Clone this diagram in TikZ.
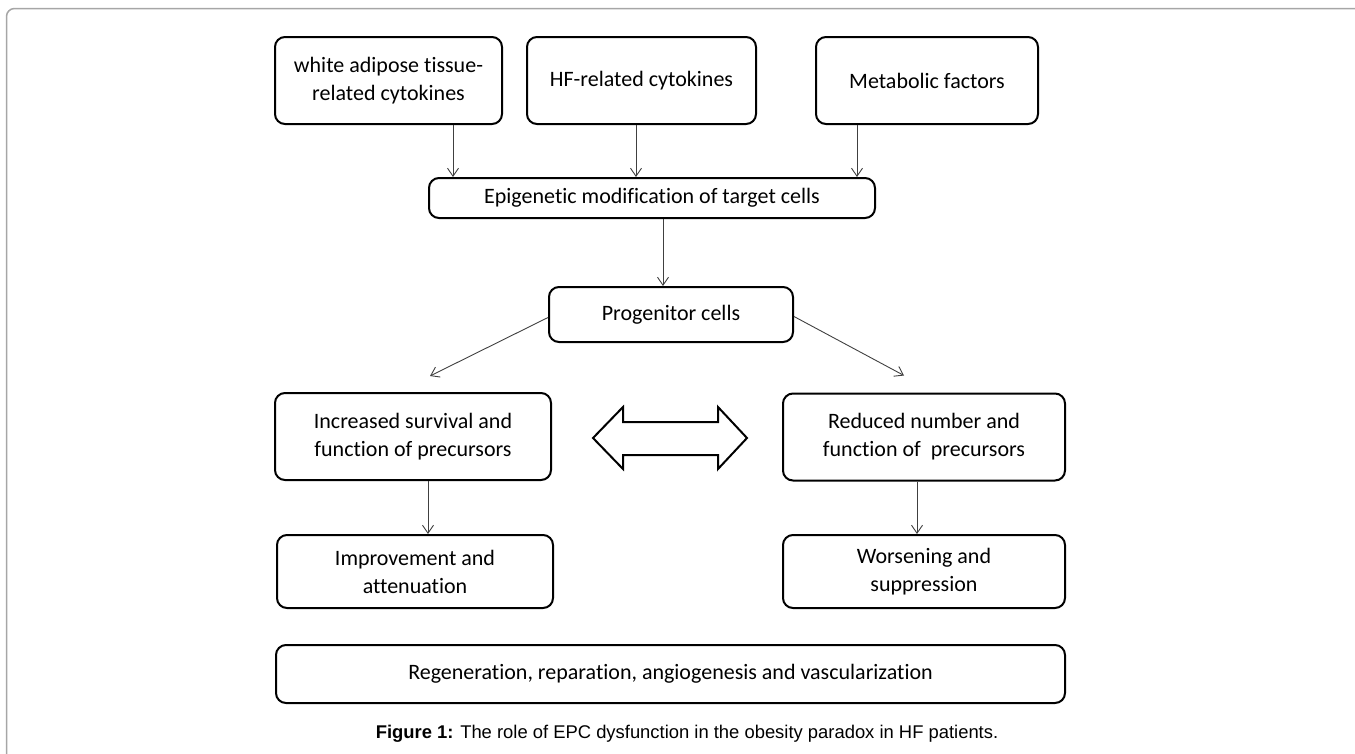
\documentclass[tikz,border=0pt]{standalone}
\usepackage{fontspec}
\setmainfont{Carlito}[Ligatures=NoCommon]
\newfontfamily\capfont{Liberation Sans}
\usetikzlibrary{arrows.meta}

\tikzset{
  box/.style={draw,rectangle,line width=2pt,rounded corners=10pt,align=center,
    font=\fontsize{22}{28}\selectfont,inner sep=0pt},
  link/.style={-{Straight Barb[length=8pt,width=11pt]},line width=0.9pt,color=black!75}
}

\begin{document}
\begin{tikzpicture}[x=1pt,y=-1pt]
  \useasboundingbox (0,0) rectangle (1355,753);
  \draw[line width=1.5pt,color=black!35,rounded corners=8pt] (6.5,8.5) rectangle (1420,820);

    \node[box,minimum width=227pt,minimum height=87pt] (wat) at (388.5,80.5) {white adipose tissue-\\related cytokines};
    \node[box,minimum width=229pt,minimum height=87pt] (hfc) at (641.5,80.5) {HF-related cytokines};
    \node[box,minimum width=222pt,minimum height=87pt] (met) at (927,80.5) {Metabolic factors};

    \node[box,minimum width=446pt,minimum height=40pt] (epi) at (652,198) {Epigenetic modification of target cells};

    \node[box,minimum width=244pt,minimum height=55pt] (prog) at (671,314.5) {Progenitor cells};

    \node[box,minimum width=276pt,minimum height=87pt] (inc) at (413,436.5) {Increased survival and\\function of precursors};
    \node[box,minimum width=282pt,minimum height=87pt] (red) at (924,437) {Reduced number and\\function of~ precursors};

    \node[box,minimum width=276pt,minimum height=73pt] (imp) at (415,571.5) {Improvement and\\attenuation};
    \node[box,minimum width=282pt,minimum height=73pt] (wor) at (924,571.5) {Worsening and\\suppression};

    \node[box,minimum width=789pt,minimum height=58pt] (reg) at (670.5,674) {Regeneration, reparation, angiogenesis and vascularization};

    \node[font=\capfont\fontsize{18.4}{20}\selectfont] (cap) at (687,734) {\textbf{Figure 1:} The role of EPC dysfunction in the obesity paradox in HF patients.};

    %double arrow between the two outcomes
    \draw[line width=2pt,line join=miter] (593,438) -- (623,407) -- (623,422) -- (718,422) -- (718,407) -- (747,438)
      -- (718,469) -- (718,455) -- (623,455) -- (623,469) -- cycle;

    \draw[link] ([xshift=64.5pt]wat.south) to ([xshift=64.5pt]wat.south |- epi.north);
    \draw[link] ([xshift=-5.5pt]hfc.south) to ([xshift=-5.5pt]hfc.south |- epi.north);
    \draw[link] ([xshift=-70pt]met.south) to ([xshift=-70pt]met.south |- epi.north);
    \draw[link] ([xshift=11pt]epi.south) to ([xshift=11pt]epi.south |- prog.north);

    \draw[link] ([yshift=-3pt]prog.west) to ([xshift=17pt,yshift=16pt]inc.north);
    \draw[link] ([yshift=-2pt]prog.east) to ([xshift=-20pt,yshift=17pt]red.north);

    \draw[link] ([xshift=15pt]inc.south) to ([xshift=15pt]inc.south |- imp.north);
    \draw[link] ([xshift=-7pt]red.south) to ([xshift=-7pt]red.south |- wor.north);
  \end{tikzpicture}
\end{document}
